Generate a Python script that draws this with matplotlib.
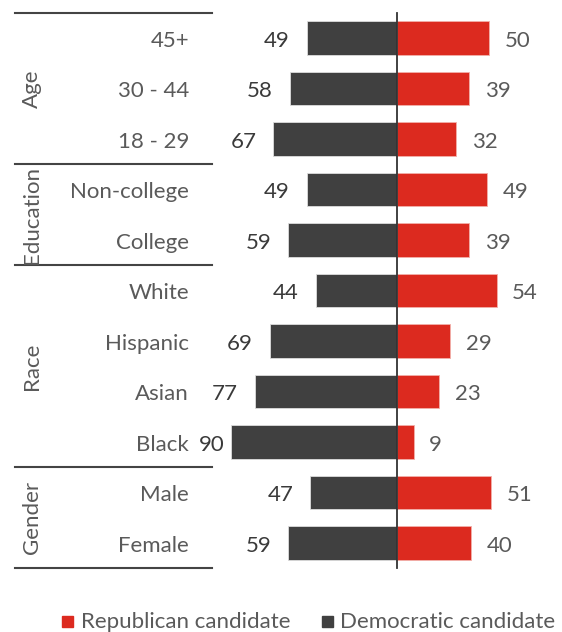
import matplotlib.pyplot as plt
from matplotlib.patches import Rectangle

categories = ["45+", "30 - 44", "18 - 29", "Non-college", "College",
              "White", "Hispanic", "Asian", "Black", "Male", "Female"]
democratic = [49, 58, 67, 49, 59, 44, 69, 77, 90, 47, 59]
republican = [50, 39, 32, 49, 39, 54, 29, 23, 9, 51, 40]
groups = ["Age", "Education", "Race", "Gender"]
group_sizes = [3, 2, 4, 2]

red = "#dc2a1f"
dark = "#404040"
txt = "#5a5a5a"
plt.rcParams["font.family"] = ["Lato", "DejaVu Sans"]
fs = 16

fig = plt.figure(figsize=(5.62, 6.32), dpi=100)
ax = fig.add_axes([0, 0, 1, 1])
ax.set_xlim(-397 / 1.844, 165 / 1.844)
ax.set_ylim(594 / 50.5, -38 / 50.5)
ax.axis("off")

y = list(range(len(categories)))
ax.barh(y, [-d for d in democratic], height=0.66, color=dark, edgecolor="#dddddd", linewidth=0.6)
ax.barh(y, republican, height=0.66, color=red, edgecolor="#f2b0aa", linewidth=0.6)
ax.plot([0, 0], [-0.5, len(categories) - 0.5], color="#333333", lw=1.3)

for i, (cat, d, r) in enumerate(zip(categories, democratic, republican)):
    ax.text(-112.8, i + 0.05, cat, ha="right", va="center", fontsize=fs, color=txt)
    ax.text(max(-d - 9.2, -93.3), i + 0.05, str(d), ha="right", va="center", fontsize=fs, color="#3a3a3a")
    ax.text(r + 8.5, i + 0.05, str(r), ha="left", va="center", fontsize=fs, color=txt)

start = 0
ax.plot([-207.2, -100.3], [-0.5, -0.5], color="#444444", lw=1.5)
for g, n in zip(groups, group_sizes):
    ax.text(-197.9, start + (n - 1) / 2, g, rotation=90, ha="center", va="center",
            fontsize=fs, color=txt)
    start += n
    ax.plot([-207.2, -100.3], [start - 0.5, start - 0.5], color="#444444", lw=1.5)

# legend
fig.patches.append(Rectangle((62 / 562, 1 - 627 / 632), 11 / 562, 11 / 632,
                             transform=fig.transFigure, color=red))
fig.text(81 / 562, 1 - 622 / 632, "Republican candidate", ha="left", va="center",
         fontsize=fs, color=txt)
fig.patches.append(Rectangle((322 / 562, 1 - 627 / 632), 11 / 562, 11 / 632,
                             transform=fig.transFigure, color=dark))
fig.text(340 / 562, 1 - 622 / 632, "Democratic candidate", ha="left", va="center",
         fontsize=fs, color=txt)

plt.savefig("out.png", dpi=100)
